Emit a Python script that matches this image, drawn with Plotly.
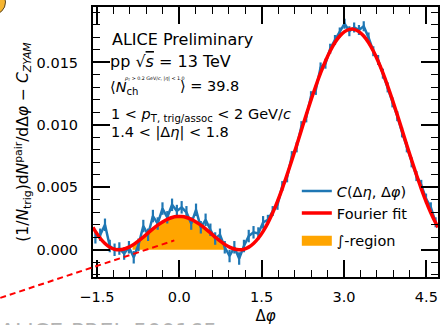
import numpy as np
import plotly.graph_objects as go

# ---------------- data ----------------
n_bins = 72
phi_lo, phi_hi = -np.pi / 2, 3 * np.pi / 2
phi = phi_lo + (np.arange(n_bins) + 0.5) * (phi_hi - phi_lo) / n_bins

corr_vals = [0.0010, 0.0012, 0.0020, 0.0003, 0.0000, 0.0001, -0.0003, 0.0002, -0.0006,
             0.0004, 0.0019, 0.0012, 0.0027, 0.0021, 0.0033, 0.0026, 0.0036, 0.0031,
             0.0034, 0.0030, 0.0021, 0.0032, 0.0018, 0.0024, 0.0016, 0.0009, 0.0012,
             0.0002, -0.0005, 0.0002, -0.0007, 0.0003, 0.0011, 0.0014, 0.0013, 0.0022,
             0.0024, 0.0031, 0.0036, 0.0051, 0.0058, 0.0075, 0.0082, 0.0099, 0.0106,
             0.0123, 0.0128, 0.0146, 0.0149, 0.0161, 0.0168, 0.0174, 0.0181, 0.0175,
             0.0178, 0.0176, 0.0179, 0.0170, 0.0159, 0.0152, 0.0141, 0.0130, 0.0118,
             0.0107, 0.0094, 0.0082, 0.0070, 0.0059, 0.0052, 0.0041, 0.0034, 0.0022]
corr_err = [0.0005] * 36 + [0.0004] * 36

fit_vals = [0.001474, 0.000921, 0.000500, 0.000211, 0.000047, 0.000002, 0.000060, 0.000209,
            0.000431, 0.000708, 0.001020, 0.001348, 0.001670, 0.001970, 0.002232, 0.002441,
            0.002586, 0.002660, 0.002660, 0.002586, 0.002441, 0.002232, 0.001970, 0.001670,
            0.001348, 0.001020, 0.000708, 0.000431, 0.000209, 0.000060, 0.000002, 0.000047,
            0.000211, 0.000500, 0.000921, 0.001474, 0.002158, 0.002965, 0.003884, 0.004903,
            0.006005, 0.007168, 0.008372, 0.009595, 0.010809, 0.011992, 0.013116, 0.014160,
            0.015100, 0.015918, 0.016594, 0.017115, 0.017468, 0.017648, 0.017648, 0.017468,
            0.017115, 0.016594, 0.015918, 0.015100, 0.014160, 0.013116, 0.011992, 0.010809,
            0.009595, 0.008372, 0.007168, 0.006005, 0.004903, 0.003884, 0.002965, 0.002158]
fit_edge_val = 0.0018

region_lo, region_hi = -0.85, 0.85
region_edge_val = 0.00038

baseline_x = [-3.26, -0.09]
baseline_y = [-0.00385, 0.00075]

x_range = [phi_lo, phi_hi]
y_range = [-0.00218, 0.01944]
x_ticks = [-1.5, 0.0, 1.5, 3.0, 4.5]
y_ticks = [0.000, 0.005, 0.010, 0.015]

BLUE = "#1f77b4"
RED = "#ff0000"
ORANGE = "#ffa500"
FONT = "DejaVu Sans"

# ---------------- figure ----------------
fig = go.Figure()

fit_x = [phi_lo] + list(phi) + [phi_hi]
fit_y = [fit_edge_val] + fit_vals + [fit_edge_val]

mask = [(p > region_lo) and (p < region_hi) for p in phi]
reg_x = [region_lo] + [p for p, m in zip(phi, mask) if m] + [region_hi]
reg_y = [region_edge_val] + [v for v, m in zip(fit_vals, mask) if m] + [region_edge_val]

fig.add_trace(go.Scatter(x=reg_x, y=reg_y, mode="lines", line=dict(width=0, shape="spline", color=ORANGE),
                         fill="tozeroy", fillcolor=ORANGE, showlegend=False, hoverinfo="skip"))

fig.add_trace(go.Scatter(x=phi, y=corr_vals, mode="lines", name="<i>C</i>(Δ<i>η</i>, Δ<i>φ</i>)",
                         line=dict(color=BLUE, width=2.5),
                         error_y=dict(type="data", array=corr_err, color=BLUE, thickness=2.2, width=0),
                         legendgroup="a"))

fig.add_trace(go.Scatter(x=fit_x, y=fit_y, mode="lines", name="Fourier fit",
                         line=dict(color=RED, width=3.5, shape="spline"), legendgroup="a"))

fig.add_trace(go.Scatter(x=[None], y=[None], mode="lines", name="∫-region",
                         line=dict(color=ORANGE, width=12), legendgroup="b"))

# dashed baseline (extends beyond axes)
def xdom(v):
    return (v - x_range[0]) / (x_range[1] - x_range[0])

def ydom(v):
    return (v - y_range[0]) / (y_range[1] - y_range[0])

fig.add_shape(type="line", xref="x domain", yref="y domain",
              x0=xdom(baseline_x[0]), y0=ydom(baseline_y[0]),
              x1=xdom(baseline_x[1]), y1=ydom(baseline_y[1]),
              line=dict(color=RED, width=2, dash="6px,4px"), layer="above")

# partial logo circle top-left
fig.add_shape(type="circle", xref="paper", yref="paper",
              x0=-0.3285, x1=-0.2536, y0=0.9707, y1=1.0659,
              fillcolor="#f6b530", line=dict(color="#5a4520", width=1))

axis_common = dict(showline=True, linecolor="black", linewidth=2, mirror="allticks",
                   ticks="inside", ticklen=17, tickwidth=1.6, tickcolor="black",
                   showgrid=False, zeroline=False,
                   tickfont=dict(family=FONT, size=14.5, color="black"))

fig.update_xaxes(range=x_range, tickvals=x_ticks, tickformat=".1f",
                 minor=dict(ticks="inside", ticklen=7, tickwidth=1.2, tickcolor="black", dtick=0.3, tick0=0),
                 ticklabelstandoff=6,
                 title=dict(text="Δ<i>φ</i>", font=dict(family=FONT, size=15, color="black"), standoff=7),
                 **axis_common)
fig.update_yaxes(range=y_range, tickvals=y_ticks, tickformat=".3f",
                 minor=dict(ticks="inside", ticklen=7, tickwidth=1.2, tickcolor="black", dtick=0.001, tick0=0),
                 ticklabelstandoff=10,
                 title=dict(text="(1/<i>N</i><sub>trig</sub>)d<i>N</i><sup>pair</sup>/dΔ<i>φ</i> − <i>C</i><sub><i>ZYAM</i></sub>",
                            font=dict(family=FONT, size=15.5, color="black"), standoff=4),
                 **axis_common)

def px2x(px):
    return (px - 93) / 347

def py2y(py):
    return (280 - py) / 273

texts = [
    ("ALICE Preliminary", 111, 40, 16),
    ("pp √<span style='text-decoration:overline'><i>s</i></span> = 13 TeV", 109, 62, 16),
    ("⟨<i>N</i><sub>ch</sub>", 109, 89, 14.5),
    ("⟩ = 39.8", 179, 87, 14.5),
    ("1 < <i>p</i><sub>T, trig/assoc</sub> < 2 GeV/<i>c</i>", 110, 116, 14.5),
    ("1.4 < |Δ<i>η</i>| < 1.8", 110, 134, 14.5),
]
for t, x, y, s in texts:
    fig.add_annotation(text=t, xref="paper", yref="paper", x=px2x(x), y=py2y(y),
                       xanchor="left", yanchor="middle", showarrow=False, borderpad=0,
                       font=dict(family=FONT, size=s, color="black"))
fig.add_annotation(text="<i>p</i><sub>T</sub> > 0.2 GeV/<i>c</i>, |<i>η</i>| < 1.0",
                   xref="paper", yref="paper", x=px2x(123), y=py2y(80), xanchor="left", yanchor="middle",
                   showarrow=False, borderpad=0, font=dict(family=FONT, size=4.8, color="black"))

fig.add_annotation(text="ALICE-PREL-500165", xref="paper", yref="paper", x=px2x(220), y=py2y(320.5),
                   xanchor="right", yanchor="top", showarrow=False,
                   font=dict(family=FONT, size=22, color="#b4b4b4"))

fig.update_layout(
    width=442, height=325,
    margin=dict(l=93, r=2, t=7, b=45),
    paper_bgcolor="white", plot_bgcolor="white",
    font=dict(family=FONT, size=14.5, color="black"),
    showlegend=True,
    legend=dict(x=px2x(298), y=py2y(177), xanchor="left", yanchor="top",
                bgcolor="rgba(0,0,0,0)", font=dict(family=FONT, size=14.5, color="black"),
                tracegroupgap=6, traceorder="grouped"),
)

fig.write_html("out.html")
